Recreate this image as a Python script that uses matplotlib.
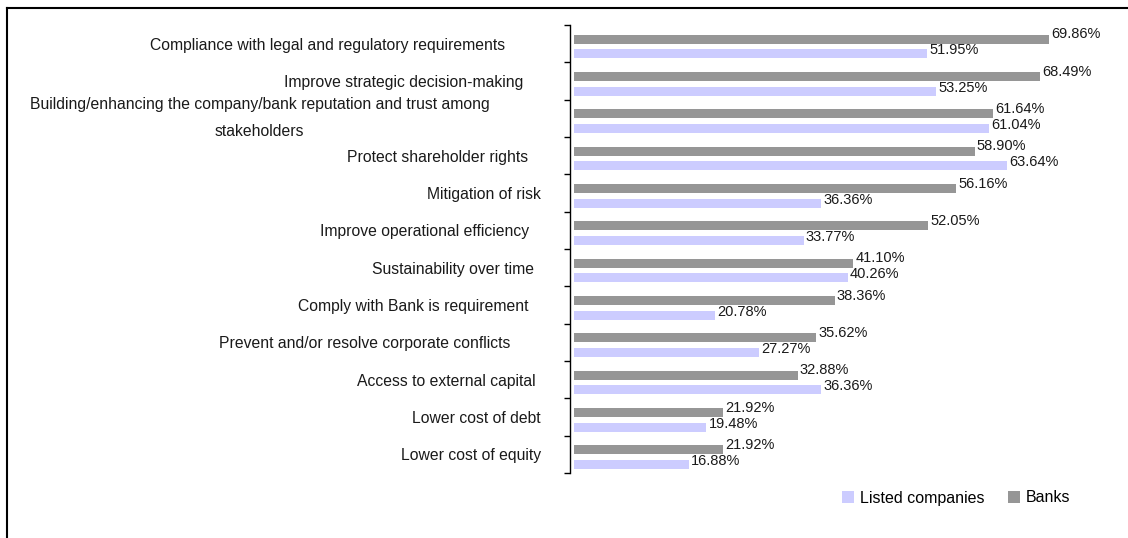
import matplotlib
matplotlib.use("Agg")
import matplotlib.pyplot as plt
from matplotlib.transforms import ScaledTranslation
from matplotlib.patches import Patch
from matplotlib.lines import Line2D
import numpy as np

plt.rcParams['font.family'] = ['Liberation Sans', 'DejaVu Sans']

categories = [
    "Compliance with legal and regulatory requirements",
    "Improve strategic decision-making",
    "Building/enhancing the company/bank reputation and trust among\nstakeholders",
    "Protect shareholder rights",
    "Mitigation of risk",
    "Improve operational efficiency",
    "Sustainability over time",
    "Comply with Bank is requirement",
    "Prevent and/or resolve corporate conflicts",
    "Access to external capital",
    "Lower cost of debt",
    "Lower cost of equity",
]
banks = [69.86, 68.49, 61.64, 58.90, 56.16, 52.05, 41.10, 38.36, 35.62, 32.88, 21.92, 21.92]
listed = [51.95, 53.25, 61.04, 63.64, 36.36, 33.77, 40.26, 20.78, 27.27, 36.36, 19.48, 16.88]

BANK_COLOR = "#969696"
LISTED_COLOR = "#CCCCFF"
TEXT_COLOR = "#1a1a1a"
VALUE_FS = 10.5
CAT_FS = 11.35
LEGEND_FS = 11.5

W, H = 1128, 538
fig = plt.figure(figsize=(W / 100, H / 100), dpi=100)
ax = fig.add_axes([574 / W, (H - 473) / H, 544 / W, 448 / H])

y = np.arange(len(categories))
bar_h = 0.24
ax.barh(y - 0.12, banks, height=bar_h, color=BANK_COLOR, label="Banks")
ax.barh(y + 0.27, listed, height=bar_h, color=LISTED_COLOR, label="Listed companies")

for yi, b, l in zip(y, banks, listed):
    ax.annotate(f"{b:.2f}%", (b, yi - 0.12), xytext=(1.5, 3.5), textcoords="offset points",
                va="center", ha="left", fontsize=VALUE_FS, color=TEXT_COLOR)
    ax.annotate(f"{l:.2f}%", (l, yi + 0.27), xytext=(1.5, 2.5), textcoords="offset points",
                va="center", ha="left", fontsize=VALUE_FS, color=TEXT_COLOR)

ax.set_xlim(0, 80)
ax.set_ylim(len(categories) - 0.5, -0.5)

for s in ("top", "right", "bottom"):
    ax.spines[s].set_visible(False)
ax.spines["left"].set_position(("outward", 3))
ax.spines["left"].set_color("black")
ax.spines["left"].set_linewidth(1.0)
ax.set_xticks([])

ax.set_yticks(y)
ax.set_yticklabels(categories, fontsize=CAT_FS, color=TEXT_COLOR)
ax.tick_params(axis="y", which="major", length=0, pad=21)
ax.set_yticks(np.arange(-0.5, len(categories), 1.0), minor=True)
ax.tick_params(axis="y", which="minor", length=4, width=1.0, color="black", direction="out")

# individual right-edge shifts of the category labels (pixels)
label_shift = [36, 17, 51, 13, 0, 12, 7, 12, 30, 5, 0, 0]
for lab, dx in zip(ax.get_yticklabels(), label_shift):
    dy = 0
    if "\n" in lab.get_text():
        lab.set_multialignment("center")
        lab.set_linespacing(2.0)
        dy = 8
    lab.set_transform(lab.get_transform() +
                      ScaledTranslation(-dx / 100, dy / 100, fig.dpi_scale_trans))

handles = [Patch(facecolor=LISTED_COLOR, label="Listed companies"),
           Patch(facecolor=BANK_COLOR, label="Banks")]
fig.legend(handles=handles, loc="center left", bbox_to_anchor=(842 / W, 1 - 498 / H),
           ncol=2, frameon=False, fontsize=LEGEND_FS, handlelength=0.75, handleheight=0.75,
           handletextpad=0.35, columnspacing=1.5, borderpad=0, borderaxespad=0)

# outer frame
fig.add_artist(Line2D([7 / W, 1.0], [1 - 8 / H, 1 - 8 / H], transform=fig.transFigure,
                      color="black", linewidth=1.5))
fig.add_artist(Line2D([7 / W, 7 / W], [0, 1 - 8 / H], transform=fig.transFigure,
                      color="black", linewidth=1.5))

fig.savefig("out.png", dpi=100, facecolor="white")
